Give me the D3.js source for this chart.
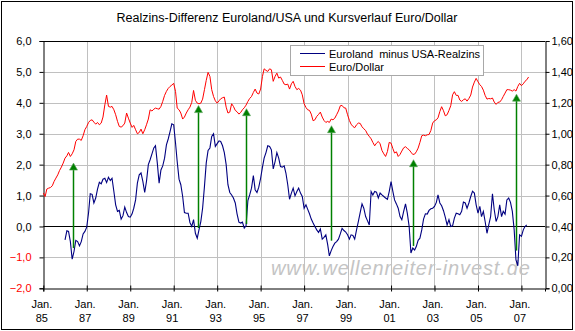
<!DOCTYPE html>
<html><head><meta charset="utf-8">
<script src="https://cdn.jsdelivr.net/npm/d3@7"></script>
<style>
html,body{margin:0;padding:0;background:#fff;}
svg{display:block;font-family:"Liberation Sans",Arial,sans-serif;}
</style></head>
<body>
<svg id="chart" width="575" height="331"></svg>
<script>
// ---- data ----
const title = "Realzins-Differenz Euroland/USA und Kursverlauf Euro/Dollar";
const seriesNames = ["Euroland  minus USA-Realzins", "Euro/Dollar"];
const watermark = "www.wellenreiter-invest.de";

// Euro/Dollar, monthly from Jan 1985 (right axis)
const euroDollarStart = "1985-01";
const euroDollar = [
 0.616,0.594,0.642,0.648,0.652,0.663,0.691,0.713,0.734,0.762,
 0.784,0.810,0.842,0.857,0.879,0.853,0.870,0.896,0.950,0.965,
 0.965,0.957,0.987,1.026,1.047,1.073,1.086,1.090,1.075,1.062,
 1.073,1.058,1.069,1.108,1.187,1.250,1.177,1.172,1.177,1.155,
 1.123,1.080,1.047,1.043,1.052,1.069,1.134,1.101,1.069,1.041,
 1.054,1.026,1.000,1.008,1.030,1.000,1.026,1.058,1.095,1.155,
 1.147,1.159,1.166,1.162,1.159,1.177,1.209,1.248,1.274,1.293,
 1.306,1.315,1.326,1.274,1.166,1.155,1.134,1.095,1.108,1.134,
 1.155,1.172,1.203,1.280,1.216,1.198,1.194,1.198,1.224,1.285,
 1.345,1.397,1.371,1.285,1.241,1.213,1.198,1.213,1.226,1.233,
 1.237,1.172,1.134,1.140,1.194,1.177,1.151,1.142,1.127,1.138,
 1.155,1.168,1.185,1.209,1.228,1.241,1.267,1.289,1.263,1.257,
 1.289,1.371,1.420,1.410,1.403,1.420,1.414,1.339,1.371,1.392,
 1.360,1.367,1.345,1.321,1.317,1.321,1.289,1.323,1.339,1.306,
 1.285,1.293,1.282,1.252,1.194,1.170,1.155,1.151,1.127,1.084,
 1.090,1.112,1.125,1.140,1.108,1.086,1.073,1.080,1.073,1.095,
 1.090,1.101,1.123,1.147,1.181,1.183,1.168,1.166,1.123,1.086,
 1.062,1.047,1.039,1.058,1.069,1.067,1.045,1.032,1.021,0.998,
 0.983,0.967,0.944,0.922,0.939,0.950,0.935,0.892,0.870,0.853,
 0.885,0.944,0.939,0.903,0.875,0.883,0.853,0.866,0.888,0.909,
 0.916,0.905,0.896,0.881,0.866,0.868,0.883,0.907,0.944,0.987,
 0.991,0.987,0.993,0.995,1.021,1.069,1.084,1.090,1.103,1.144,
 1.175,1.149,1.116,1.123,1.151,1.181,1.252,1.272,1.248,1.248,
 1.218,1.209,1.220,1.226,1.211,1.228,1.250,1.302,1.334,1.358,
 1.336,1.317,1.306,1.282,1.248,1.224,1.228,1.226,1.231,1.205,
 1.190,1.203,1.205,1.220,1.241,1.263,1.285,1.285,1.282,1.276,
 1.285,1.276,1.306,1.326,1.311,1.323,1.339,1.349,1.367
];

// Real-rate difference Euroland minus USA, monthly from Jan 1986 (left axis)
const realRateStart = "1986-01";
const realRateDiff = [
 -0.43,-0.14,-0.16,-0.49,-1.06,-0.81,-0.45,-0.49,-0.63,-0.49,
 -0.24,-0.16,-0.02,0.45,1.06,1.04,0.76,0.92,1.21,1.43,
 1.38,1.53,1.56,1.42,1.59,1.49,1.56,1.13,0.70,0.49,
 0.52,0.24,0.35,0.63,0.45,0.32,0.30,0.41,0.59,0.86,
 1.40,1.67,1.73,1.46,1.10,1.46,2.00,2.16,2.35,2.54,
 2.61,2.05,1.40,1.83,1.96,2.21,2.64,2.83,3.07,3.32,
 3.29,2.70,2.10,1.53,1.35,0.97,0.45,0.43,0.43,0.13,
 0.00,0.22,-0.22,-0.38,-0.11,0.16,0.59,1.29,2.05,2.46,
 2.54,2.91,3.00,2.59,2.68,2.77,2.75,2.61,2.39,2.00,
 1.35,1.10,1.02,0.92,0.76,0.41,0.14,0.11,0.14,-0.05,
 0.02,0.84,1.02,1.24,1.65,1.19,1.10,1.27,1.56,1.92,
 2.21,2.39,2.61,2.59,2.48,1.86,2.10,2.39,2.21,1.94,
 1.92,1.96,1.73,1.35,0.88,1.08,1.24,0.99,1.13,1.24,
 1.08,0.97,0.59,0.70,0.56,0.41,0.24,0.11,0.00,-0.11,
 -0.19,-0.08,-0.41,-0.35,-0.27,-0.59,-0.95,-0.78,-0.65,-0.54,
 -0.49,-0.41,-0.24,-0.06,-0.13,-0.18,-0.27,-0.41,-0.27,-0.29,
 -0.41,-0.11,0.16,0.45,0.73,0.59,0.32,0.19,0.05,1.13,
 1.02,1.13,1.11,0.92,1.08,1.02,0.97,0.92,0.88,1.13,
 1.45,1.13,0.86,0.73,0.59,0.32,0.22,0.49,0.73,0.43,
 0.00,-0.86,-0.70,-0.76,-0.65,-0.45,-0.38,-0.11,0.24,0.41,
 0.40,0.52,0.57,0.59,0.65,0.78,1.02,0.76,0.67,0.51,
 0.30,0.05,0.22,0.00,0.02,0.27,0.43,0.41,0.38,0.49,
 0.79,0.76,0.59,0.76,0.97,1.14,1.08,0.70,0.43,0.65,
 0.32,0.49,0.16,-0.22,0.05,0.32,1.06,0.54,0.16,0.32,
 0.70,0.32,0.49,0.40,0.86,0.92,0.78,0.49,-0.11,-1.08,
 -1.27,-0.27,-0.32,-0.11,0.00,0.05
];

// green signal arrows: date, start value (left axis), tip value (left axis)
const arrowDates = ["1986-05-18","1992-02-15","1994-05-06","1998-03-25","2002-01-06","2006-10-10"];
const arrowFrom  = [-0.70, -0.05, 0.08, -0.46, -0.63, -0.78];
const arrowTo    = [2.05, 3.91, 3.81, 3.26, 2.16, 4.28];

const leftTicks  = [-2,-1,0,1,2,3,4,5,6];
const rightTicks = [0,0.2,0.4,0.6,0.8,1.0,1.2,1.4,1.6];
const xTickYears = [1985,1987,1989,1991,1993,1995,1997,1999,2001,2003,2005,2007];
const xTickPrefix = "Jan.";

// ---- drawing ----
const svg = d3.select("#chart");
const W = 575, H = 331;
const plot = {left: 43.3, right: 545, top: 41, bottom: 288.3};

const parseMonth = d3.timeParse("%Y-%m");
const parseDay = d3.timeParse("%Y-%m-%d");
const loc = d3.formatLocale({decimal: ",", thousands: ".", grouping: [3], currency: ["", "€"]});
const fmt1 = loc.format(".1f"), fmt2 = loc.format(".2f");

const x = d3.scaleTime()
  .domain([new Date(1985,0,1), new Date(2008,1,1)])
  .range([plot.left, plot.right]);
const yL = d3.scaleLinear().domain([-2, 6]).range([plot.bottom, plot.top]);
const yR = d3.scaleLinear().domain([0, 1.6]).range([plot.bottom, plot.top]);

const edStart = parseMonth(euroDollarStart);
const edData = euroDollar.map((v,i) => ({date: d3.timeMonth.offset(edStart, i), v}));
const rrStart = parseMonth(realRateStart);
const rrData = realRateDiff.map((v,i) => ({date: d3.timeMonth.offset(rrStart, i), v}));

// outer border
svg.append("rect").attr("x",1.5).attr("y",1.5).attr("width",W-4).attr("height",H-3)
  .attr("fill","#fff").attr("stroke","#000").attr("stroke-width",1);

// title
svg.append("text").attr("x", 287).attr("y", 22).attr("text-anchor","middle")
  .attr("font-size", 12.5).attr("fill","#000").text(title);

// gridlines horizontal
svg.append("g").selectAll("line").data(leftTicks.filter(d => d !== 0 && d !== 6 && d !== -2)).join("line")
  .attr("x1", plot.left).attr("x2", plot.right)
  .attr("y1", d => Math.round(yL(d))+0.5).attr("y2", d => Math.round(yL(d))+0.5)
  .attr("stroke","#c0c0c0").attr("stroke-width",1);
// gridlines vertical
const xTickDates = xTickYears.map(y => new Date(y,0,1));
svg.append("g").selectAll("line").data(xTickDates.slice(1)).join("line")
  .attr("x1", d => Math.round(x(d))+0.5).attr("x2", d => Math.round(x(d))+0.5)
  .attr("y1", plot.top).attr("y2", plot.bottom)
  .attr("stroke","#c0c0c0").attr("stroke-width",1);

// watermark (spans roughly x 271..530)
const wm = svg.append("text").attr("x", 271).attr("y", 275)
  .attr("font-size", 20).attr("font-style","italic").attr("fill","#c4c4c4")
  .text(watermark);
const wlen = wm.node().getComputedTextLength();
wm.attr("letter-spacing", ((259 - wlen) / (watermark.length - 1)).toFixed(2));

// top border of plot + zero line
svg.append("line").attr("x1", plot.left).attr("x2", plot.right)
  .attr("y1", Math.round(plot.top)+0.5).attr("y2", Math.round(plot.top)+0.5).attr("stroke","#000");
svg.append("line").attr("x1", plot.left).attr("x2", plot.right)
  .attr("y1", Math.round(yL(0))+0.5).attr("y2", Math.round(yL(0))+0.5).attr("stroke","#000");

// axes
const axL = svg.append("g").attr("transform", `translate(${Math.round(plot.left)+0.5},0)`)
  .call(d3.axisLeft(yL).tickValues(leftTicks).tickSize(4).tickPadding(8).tickFormat(fmt1));
axL.selectAll("text").attr("font-size", 11).attr("font-family", "Liberation Sans, Arial, sans-serif")
  .attr("fill", d => d < 0 ? "#ff0000" : "#000");
axL.select(".domain").attr("stroke","#000");

const axR = svg.append("g").attr("transform", `translate(${Math.round(plot.right)+0.5},0)`)
  .call(d3.axisRight(yR).tickValues(rightTicks).tickSize(4).tickPadding(2).tickFormat(fmt2));
axR.selectAll("text").attr("font-size", 11).attr("font-family", "Liberation Sans, Arial, sans-serif").attr("fill","#000");

const axB = svg.append("g").attr("transform", `translate(0,${Math.round(plot.bottom)+0.5})`)
  .call(d3.axisBottom(x).tickValues(xTickDates).tickSize(3).tickFormat(""));
axB.selectAll(".tick line").attr("y1", -3).attr("y2", 3);
axB.selectAll(".tick").append("text")
  .attr("x", -2).attr("y", 19).attr("fill","#000").attr("font-size", 11)
  .attr("font-family", "Liberation Sans, Arial, sans-serif").attr("text-anchor","middle")
  .text(xTickPrefix);
axB.selectAll(".tick").append("text")
  .attr("x", -2).attr("y", 33).attr("fill","#000").attr("font-size", 11)
  .attr("font-family", "Liberation Sans, Arial, sans-serif").attr("text-anchor","middle")
  .text(d => d3.timeFormat("%y")(d));

// lines
svg.append("path").datum(edData)
  .attr("d", d3.line().x(d => x(d.date)).y(d => yR(d.v)))
  .attr("fill","none").attr("stroke","#ff0000").attr("stroke-width",1);
svg.append("path").datum(rrData)
  .attr("d", d3.line().x(d => x(d.date)).y(d => yL(d.v)))
  .attr("fill","none").attr("stroke","#000080").attr("stroke-width",1.1);

// arrows
const arrows = arrowDates.map((d,i) => ({date: parseDay(d), from: arrowFrom[i], to: arrowTo[i]}));
const ag = svg.append("g");
arrows.forEach(a => {
  const ax = Math.round(x(a.date)) + 0.5;
  const y0 = yL(a.from), y1 = yL(a.to);
  ag.append("line").attr("x1", ax).attr("x2", ax).attr("y1", y0).attr("y2", y1 + 5)
    .attr("stroke","#008000").attr("stroke-width",1.5);
  ag.append("path").attr("d", `M${ax},${y1} L${ax-4},${y1+7} L${ax+4},${y1+7} Z`)
    .attr("fill","#008000").attr("stroke","#5aa55a").attr("stroke-width",0.6);
});

// legend
const lg = svg.append("g");
lg.append("rect").attr("x", 290.5).attr("y", 45.5).attr("width", 193).attr("height", 30)
  .attr("fill","#fff").attr("stroke","#a8a8a8");
const lColors = ["#000080", "#ff0000"];
seriesNames.forEach((n,i) => {
  const yy = 53.5 + i*13;
  lg.append("line").attr("x1", 300).attr("x2", 325).attr("y1", yy).attr("y2", yy)
    .attr("stroke", lColors[i]).attr("stroke-width", 1);
  lg.append("text").attr("x", 329).attr("y", yy + 4).attr("font-size", 11)
    .style("white-space","pre").attr("fill","#000").text(n);
});
</script>
</body></html>
